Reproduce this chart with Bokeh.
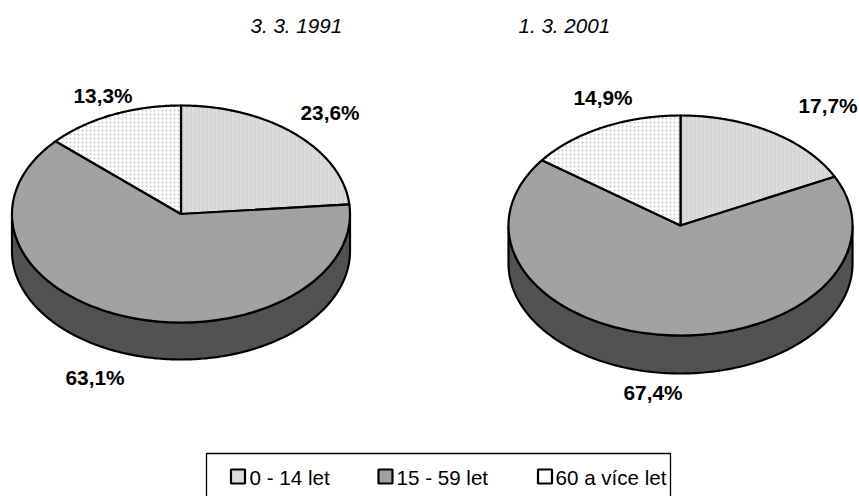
import numpy as np
from bokeh.plotting import figure
from bokeh.models import Range1d
from bokeh.embed import file_html
from bokeh.resources import INLINE
from bokeh.core.properties import value

# data
categories = ["0 - 14 let", "15 - 59 let", "60 a více let"]
dates = ["3. 3. 1991", "1. 3. 2001"]
values_1991 = [23.6, 63.1, 13.3]
values_2001 = [17.7, 67.4, 14.9]
labels_1991 = ["23,6%", "63,1%", "13,3%"]
labels_2001 = ["17,7%", "67,4%", "14,9%"]

W, H = 859, 496
FONT = value("Liberation Sans")
p = figure(width=W, height=H, output_backend="svg", toolbar_location=None,
           x_range=Range1d(0, W), y_range=Range1d(H, 0),
           min_border=0, outline_line_color=None)
p.axis.visible = False
p.grid.visible = False

FILLS = ["#dcdcdc", "#a2a2a2", "#ffffff"]
HATCH = [("vertical_line", "#cecece"), (" ", None), ("dot", "#c4c4c4")]
SIDE = "#525252"
LW = 2.2


def ell(cx, cy, rx, ry, a):
    a = np.asarray(a)
    return cx + rx * np.sin(a), cy - ry * np.cos(a)


def pie(vals, cx, cy, rx, ry, depth):
    # visible side wall: lower half of the rim
    a = np.linspace(np.pi / 2, 3 * np.pi / 2, 200)
    x, y = ell(cx, cy, rx, ry, a)
    sx = np.concatenate([x, x[::-1]])
    sy = np.concatenate([y, y[::-1] + depth])
    p.patch(sx, sy, fill_color=SIDE, line_color="black", line_width=LW)
    start = 0.0
    for v, fill, (hp, hc) in zip(vals, FILLS, HATCH):
        end = start + v / sum(vals) * 2 * np.pi
        a = np.linspace(start, end, 160)
        x, y = ell(cx, cy, rx, ry, a)
        kw = dict(hatch_pattern=hp, hatch_color=hc, hatch_scale=4, hatch_weight=1) if hc else {}
        p.patch(np.concatenate([[cx], x]), np.concatenate([[cy], y]),
                fill_color=fill, line_color="black", line_width=LW, line_join="round", **kw)
        start = end


pie(values_1991, 180.5, 213.5, 169, 108.5, 37)
pie(values_2001, 680, 225, 172, 110, 38)

# data labels (left-aligned at reference positions)
lab_x = [300, 65, 73, 798, 623, 573]
lab_y = [112, 377, 95, 105, 392, 97]
p.text(lab_x, lab_y, text=labels_1991 + labels_2001, text_font=FONT, text_font_style="bold",
       text_font_size="20.8px", text_color="black", text_baseline="middle", text_align="left")

# column dates
p.text([250, 518], [25, 25], text=dates, text_font=FONT, text_font_style="italic",
       text_font_size="20.6px", text_color="black", text_baseline="middle")

# legend box, open at the picture's bottom
p.line([206, 206, 670, 670], [500, 453, 453, 500], line_color="black", line_width=1.3)
leg_sw = [237.5, 385, 544.5]
p.rect(leg_sw, [476] * 3, width=14, height=14, fill_color=FILLS, line_color="black", line_width=2.2)
p.text([249, 396, 555], [476.5] * 3, text=categories, text_font=FONT,
       text_font_size="20.6px", text_color="black", text_baseline="middle")

open("out.html", "w").write(file_html(p, INLINE))
